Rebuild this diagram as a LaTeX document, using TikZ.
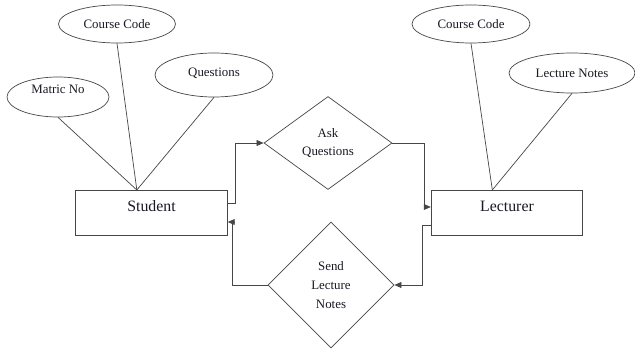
\documentclass[tikz,border=0pt]{standalone}
\usepackage{fontspec}
\setmainfont{Liberation Serif}
\usepackage{tikz}
\usepackage{xcolor}
\usetikzlibrary{shapes.geometric, arrows.meta, positioning}
\definecolor{erline}{RGB}{70, 70, 70}
\definecolor{ertext}{RGB}{25, 25, 35}

\begin{document}
\begin{tikzpicture}[
    entity/.style={
        rectangle,
        draw=erline,
        line width=0.6pt,
        fill=white,
        minimum width=4.55cm,
        minimum height=1.36cm,
        text height=11pt,
        text depth=13pt,
        font=\fontsize{13.5pt}{16pt}\selectfont,
        text=ertext
    },
    attrib/.style={
        ellipse,
        draw=erline,
        line width=0.6pt,
        fill=white,
        inner sep=1pt,
        font=\fontsize{11pt}{16pt}\selectfont,
        text=ertext
    },
    relation/.style={
        diamond,
        draw=erline,
        line width=0.6pt,
        fill=white,
        inner sep=1pt,
        align=center,
        font=\fontsize{11pt}{16pt}\selectfont,
        text=ertext
    },
    link/.style={
        erline,
        line width=0.6pt
    },
    arrow/.style={
        -{Triangle[length=6pt,width=5pt]},
        erline,
        line width=0.6pt
    }
]

% Page frame
\useasboundingbox (0,0) rectangle (19.05,10.5);

% Entities
\node[entity] (student) at (4.545,4.11) {Student};
\node[entity] (lecturer) at (15.21,4.11) {Lecturer};

% Relationships
\node[relation, aspect=1.38, minimum width=3.84cm, minimum height=2.79cm] (ask) at (9.84,6.21) {Ask\\Questions};
\node[relation, minimum width=3.78cm, minimum height=3.78cm] (send) at (9.93,1.95) {Send\\Lecture\\Notes};

% Attributes of Student
\node[attrib, minimum width=3.06cm, minimum height=1.2cm, text height=7.6pt, text depth=13.6pt] (matric) at (1.74,7.59) {Matric No};
\node[attrib, minimum width=3.51cm, minimum height=1.14cm] (scode) at (3.51,9.78) {Course Code};
\node[attrib, minimum width=3.54cm, minimum height=1.32cm, text height=7.6pt, text depth=5pt] (questions) at (6.42,8.25) {Questions};

% Attributes of Lecturer
\node[attrib, minimum width=3.54cm, minimum height=1.14cm] (lcode) at (14.13,9.78) {Course Code};
\node[attrib, minimum width=3.78cm, minimum height=1.2cm] (notes) at (17.16,8.31) {Lecture Notes};

% Joins on top of the entities
\coordinate[left=0.44cm of student.north] (sjoin);
\coordinate[left=0.44cm of lecturer.north] (ljoin);

% Attribute links
\draw[link] (matric.south) -- (sjoin);
\draw[link] (scode.south) -- (sjoin);
\draw[link] (questions.south) -- (sjoin);
\draw[link] (lcode.south) -- (ljoin);
\draw[link] (notes.south) -- (ljoin);

% Arrows
\draw[arrow] ([yshift=0.3cm]student.east) -- ++(0.24,0) |- (ask.west);
\draw[arrow] (ask.east) -- ++(0.96,0) |- ([yshift=0.18cm]lecturer.west);
\draw[arrow] ([yshift=-0.36cm]lecturer.west) -- ++(-0.24,0) |- (send.east);
\draw[arrow] (send.west) -- ++(-1.05,0) |- ([yshift=-0.27cm]student.east);

\end{tikzpicture}
\end{document}
